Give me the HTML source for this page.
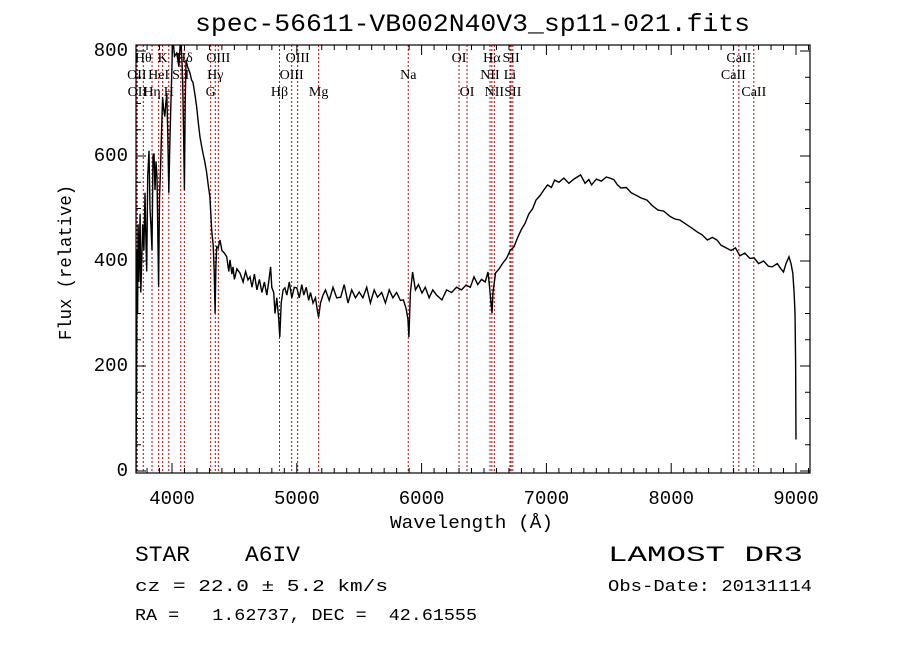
<!DOCTYPE html>
<html><head><meta charset="utf-8"><style>
html,body{margin:0;padding:0;background:#fff;}
svg{display:block;}
text{fill:#000;white-space:pre;}
.mono{font-family:"Liberation Mono",monospace;}
.ser{font-family:"Liberation Serif",serif;font-size:14px;}
</style></head><body>
<svg id="chart" width="900" height="649" viewBox="0 0 900 649" xmlns="http://www.w3.org/2000/svg" xml:space="preserve">
<rect x="0" y="0" width="900" height="649" fill="#fff"/>
<text class="mono" x="195" y="31" font-size="25" textLength="555" lengthAdjust="spacingAndGlyphs">spec-56611-VB002N40V3_sp11-021.fits</text>
<g id="lines"></g>
<g id="labels"></g>
<defs><clipPath id="clip"><rect x="136" y="45" width="674" height="428"/></clipPath></defs>
<path id="spec" fill="none" stroke="#000" stroke-width="1.4" clip-path="url(#clip)"/>
<rect x="136" y="45" width="674" height="428" fill="none" stroke="#000" stroke-width="1.2"/>
<g id="ticks"></g>
<text class="mono" font-size="18" transform="translate(71,340) rotate(-90)" textLength="155" lengthAdjust="spacingAndGlyphs">Flux (relative)</text>
<text class="mono" x="390" y="528" font-size="18" textLength="163" lengthAdjust="spacingAndGlyphs">Wavelength (Å)</text>
<text class="mono" x="135" y="561" font-size="22" textLength="165" lengthAdjust="spacingAndGlyphs">STAR    A6IV</text>
<text class="mono" x="135" y="591" font-size="17" textLength="253" lengthAdjust="spacingAndGlyphs">cz = 22.0 ± 5.2 km/s</text>
<text class="mono" x="135" y="620" font-size="17" textLength="342" lengthAdjust="spacingAndGlyphs">RA =   1.62737, DEC =  42.61555</text>
<text class="mono" x="608" y="561" font-size="22" textLength="195" lengthAdjust="spacingAndGlyphs">LAMOST DR3</text>
<text class="mono" x="608" y="591" font-size="17" textLength="204" lengthAdjust="spacingAndGlyphs">Obs-Date: 20131114</text>
</svg>
<script>
const wavelength=[3711,3715,3720,3724,3728,3735,3744,3750,3757,3765,
3775,3784,3790,3797,3805,3816,3824,3832,3840,3848,
3856,3864,3872,3880,3893,3900,3909,3917,3925,3933,
3942,3950,3958,3966,3974,3982,3990,3998,4006,4020,
4038,4055,4070,4080,4086,4093,4099,4106,4112,4125,
4144,4156,4168,4185,4198,4212,4224,4236,4248,4262,
4278,4290,4304,4318,4330,4338,4345,4352,4358,4370,
4385,4400,4420,4438,4455,4465,4480,4489,4500,4520,
4545,4570,4590,4609,4625,4641,4660,4680,4700,4720,
4740,4760,4775,4790,4800,4815,4825,4840,4855,4864,
4875,4890,4905,4920,4940,4960,4980,5000,5020,5040,
5056,5075,5095,5110,5130,5150,5165,5175,5190,5210,
5230,5260,5290,5320,5352,5380,5410,5440,5470,5500,
5530,5560,5590,5620,5647,5680,5710,5740,5770,5800,
5830,5854,5875,5890,5898,5910,5928,5950,5975,6003,
6030,6060,6090,6120,6163,6200,6240,6280,6320,6356,
6390,6420,6450,6480,6510,6532,6545,6556,6564,6572,
6592,6620,6651,6680,6710,6740,6770,6800,6829,6860,
6890,6917,6950,6978,7010,7040,7066,7100,7140,7180,
7220,7274,7310,7340,7362,7400,7440,7480,7509,7540,
7570,7598,7640,7680,7720,7760,7806,7850,7894,7940,
7990,8030,8070,8120,8170,8210,8247,8290,8330,8367,
8400,8440,8480,8515,8550,8590,8630,8664,8700,8740,
8780,8809,8850,8880,8900,8920,8944,8960,8974,8985,
8992,8997,9000];
const flux=[0,130,420,300,470,360,490,340,400,470,
420,530,450,380,560,610,500,465,420,600,
605,535,590,560,350,520,580,650,712,690,
675,700,720,640,530,620,693,760,830,790,
796,770,830,780,740,640,535,700,783,770,
758,745,740,715,693,660,636,620,605,590,
568,545,522,459,430,380,300,390,427,425,
440,420,415,408,380,402,375,389,365,385,
377,360,380,364,370,350,375,345,365,340,
360,335,360,389,350,340,300,330,290,255,
320,345,349,335,360,330,350,349,330,355,
335,350,325,340,320,330,305,293,320,335,
345,325,350,330,331,355,320,345,330,341,
330,350,320,345,331,340,320,345,330,340,
325,326,310,290,255,340,379,345,355,339,
350,330,345,335,326,345,340,350,345,354,
350,370,355,365,360,379,350,320,301,340,
377,385,396,405,420,427,445,460,472,490,
500,516,525,535,545,540,554,550,558,548,
556,564,548,555,545,556,552,560,558,555,
545,539,540,530,525,520,516,505,497,495,
485,480,478,470,462,455,450,440,445,440,
430,425,420,425,410,415,405,406,395,400,
390,389,395,385,379,395,408,395,377,340,
301,211,60];
const lineWave=[3718,3722,3770,3840,3893,3925,3974,4070,4099,4310,4347,4371,4861,4959,5007,5175,5893,6300,6364,6548,6563,6583,6708,6717,6731,8498,8542,8662];
const lineName=["OII","OII","Hθ","Hη","HeI","K","H","SII","Hδ","G","Hγ","OIII","Hβ","OIII","OIII","Mg","Na","OI","OI","NII","Hα","NII","Li","SII","SII","CaII","CaII","CaII"];
const lineRow=[2,3,1,3,2,1,3,2,1,3,2,1,3,2,1,3,2,1,3,2,1,3,2,1,3,2,1,3];
const xTicks=[4000,5000,6000,7000,8000,9000];
const yTicks=[0,200,400,600,800];

const L=136,R=810,T=45,B=473;
function xs(w){return 172+(w-4000)*0.1248;}
function ys(f){return 471-f*0.525;}
const NS="http://www.w3.org/2000/svg";
function mk(tag,attrs,parent){const e=document.createElementNS(NS,tag);for(const k in attrs)e.setAttribute(k,attrs[k]);parent.appendChild(e);return e;}

const n=Math.min(wavelength.length,flux.length);
let d="";
for(let i=0;i<n;i++){d+=(i?"L":"M")+xs(wavelength[i]).toFixed(1)+","+ys(flux[i]).toFixed(1);}
document.getElementById('spec').setAttribute('d',d);

const lg=document.getElementById('lines'),lb=document.getElementById('labels');
const rowY=[0,62,79,96];
for(let i=0;i<lineWave.length;i++){
  const x=xs(lineWave[i]);
  const ln=mk('line',{x1:x,x2:x,y1:T,y2:B,stroke:'#c00000','stroke-width':1,'stroke-dasharray':'2,2'},lg);
  
  
  const t=mk('text',{x:x,y:rowY[lineRow[i]],'text-anchor':'middle',class:'ser'},lb);
  t.textContent=lineName[i];
  
  
}

const tg=document.getElementById('ticks');
for(let w=3800;w<=9100;w+=100){
  const x=xs(w);if(x<L||x>R)continue;
  const len=(w%1000===0)?10:5;
  mk('line',{x1:x,x2:x,y1:B,y2:B-len,stroke:'#000','stroke-width':1},tg);
  mk('line',{x1:x,x2:x,y1:T,y2:T+len,stroke:'#000','stroke-width':1},tg);
}
for(const w of xTicks){
  const t=mk('text',{x:xs(w),y:504,'text-anchor':'middle',class:'mono','font-size':19},tg);
  t.textContent=String(w);
  
  
}
for(let f=0;f<=800;f+=50){
  const y=ys(f);if(y<T||y>B)continue;
  const len=(f%200===0)?10:5;
  mk('line',{x1:L,x2:L+len,y1:y,y2:y,stroke:'#000','stroke-width':1},tg);
  mk('line',{x1:R,x2:R-len,y1:y,y2:y,stroke:'#000','stroke-width':1},tg);
}
for(const f of yTicks){
  const t=mk('text',{x:128,y:ys(f)+5,'text-anchor':'end',class:'mono','font-size':19},tg);
  t.textContent=String(f);
  
  
}
</script>
</body></html>
